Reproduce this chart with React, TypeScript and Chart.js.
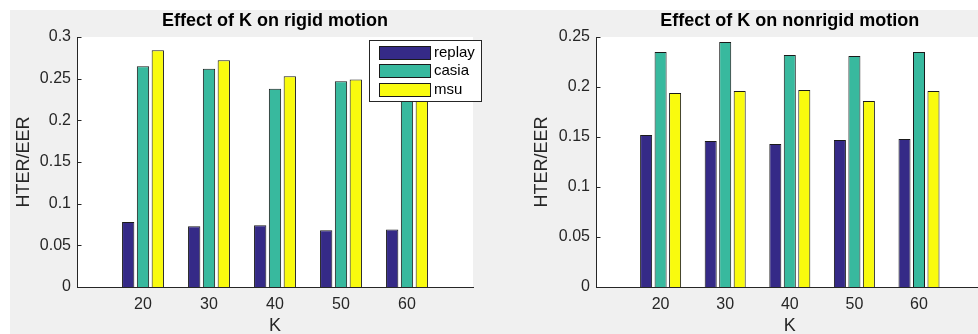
import React, { useEffect, useRef } from "react";
import { Chart, registerables } from "chart.js";

Chart.register(...registerables);

// ---- data ----
const categories = ["20", "30", "40", "50", "60"];
const seriesNames = ["replay", "casia", "msu"];
const seriesColors = ["#352a87", "#38b99e", "#f9fb0e"];

const rigidReplay = [0.078, 0.073, 0.074, 0.068, 0.069];
const rigidCasia = [0.265, 0.262, 0.238, 0.247, 0.24];
const rigidMsu = [0.284, 0.272, 0.253, 0.249, 0.25];

const nonrigidReplay = [0.152, 0.146, 0.143, 0.147, 0.148];
const nonrigidCasia = [0.235, 0.245, 0.232, 0.231, 0.235];
const nonrigidMsu = [0.194, 0.196, 0.197, 0.186, 0.196];

const FONT = '"Liberation Sans", Arial, Helvetica, sans-serif';
const AXIS_COLOR = "#262626";

const whiteArea = {
  id: "whiteArea",
  beforeDraw(chart: any) {
    const { ctx, chartArea: ca } = chart;
    ctx.save();
    ctx.fillStyle = "#ffffff";
    ctx.fillRect(ca.left, ca.top, ca.right - ca.left, ca.bottom - ca.top);
    ctx.restore();
  },
};

const inwardTicks = {
  id: "inwardTicks",
  beforeDatasetsDraw(chart: any) {
    const { ctx, chartArea: ca, scales } = chart;
    const x = scales.x;
    const y = scales.y;
    ctx.save();
    ctx.strokeStyle = AXIS_COLOR;
    ctx.lineWidth = 1;
    ctx.beginPath();
    y.ticks.forEach((t: any) => {
      const py = Math.round(y.getPixelForValue(t.value)) + 0.5;
      ctx.moveTo(ca.left, py);
      ctx.lineTo(ca.left + 4.5, py);
    });
    x.ticks.forEach((t: any, i: number) => {
      const lbl = x.getLabelForValue(t.value);
      if (!lbl) return;
      const px = Math.round(x.getPixelForTick(i)) + 0.5;
      ctx.moveTo(px, ca.bottom);
      ctx.lineTo(px, ca.bottom - 4.5);
    });
    ctx.stroke();
    ctx.restore();
  },
};

const boxLegend = {
  id: "boxLegend",
  afterDraw(chart: any, _args: any, opts: any) {
    if (!opts || !opts.show) return;
    const { ctx, chartArea: ca } = chart;
    const w = 112;
    const h = 61;
    const x0 = Math.round(ca.right + 8 - w);
    const y0 = Math.round(ca.top + 3);
    ctx.save();
    ctx.fillStyle = "#ffffff";
    ctx.fillRect(x0, y0, w, h);
    ctx.strokeStyle = AXIS_COLOR;
    ctx.lineWidth = 1;
    ctx.strokeRect(x0 + 0.5, y0 + 0.5, w, h);
    chart.data.datasets.forEach((ds: any, i: number) => {
      const cy = y0 + 12 + i * 18.5;
      const sy = Math.round(cy - 6.5);
      ctx.fillStyle = ds.backgroundColor;
      ctx.fillRect(x0 + 10, sy, 51, 13);
      ctx.strokeStyle = "#1a1a1a";
      ctx.strokeRect(x0 + 10.5, sy + 0.5, 51, 13);
      ctx.fillStyle = "#000000";
      ctx.font = `15px ${FONT}`;
      ctx.textBaseline = "middle";
      ctx.textAlign = "left";
      ctx.fillText(ds.label, x0 + 65, cy + 0.5);
    });
    ctx.restore();
  },
};

type PanelProps = {
  title: string;
  series: number[][];
  yMax: number;
  left: number;
  width: number;
  yAxisWidth: number;
  yTitlePad: number;
  padRight: number;
  showLegend: boolean;
};

function BarPanel(p: PanelProps) {
  const ref = useRef<HTMLCanvasElement | null>(null);
  useEffect(() => {
    if (!ref.current) return;
    const labels = ["", ...categories, ""];
    const datasets = p.series.map((vals, i) => ({
      label: seriesNames[i],
      data: [null, ...vals, null],
      backgroundColor: seriesColors[i],
      borderColor: "#1a1a1a",
      borderWidth: 1,
      borderSkipped: "bottom",
      categoryPercentage: 0.673,
      barPercentage: 0.83,
    }));
    const chart = new Chart(ref.current, {
      type: "bar",
      data: { labels, datasets } as any,
      plugins: [whiteArea, inwardTicks, boxLegend],
      options: {
        animation: false,
        responsive: false,
        devicePixelRatio: 1,
        layout: { padding: { left: 0, right: p.padRight, top: 0, bottom: 0 } },
        plugins: {
          legend: { display: false },
          tooltip: { enabled: false },
          title: {
            display: true,
            text: p.title,
            fullSize: false,
            color: "#000000",
            font: { family: FONT, size: 18, weight: "bold", lineHeight: 1.2 },
            padding: { top: 0.7, bottom: 4.7 },
          },
          boxLegend: { show: p.showLegend },
        } as any,
        scales: {
          x: {
            type: "category",
            offset: false,
            grid: { display: false, drawTicks: false },
            border: { display: true, color: AXIS_COLOR, width: 1 },
            ticks: {
              autoSkip: false,
              maxRotation: 0,
              padding: 8.4,
              color: AXIS_COLOR,
              font: { family: FONT, size: 16, lineHeight: 1.2 },
            },
            title: {
              display: true,
              text: "K",
              color: AXIS_COLOR,
              font: { family: FONT, size: 18, lineHeight: 0.9 },
              padding: { top: 0, bottom: 0 },
            },
            afterFit(scale: any) {
              scale.height = 47;
            },
          },
          y: {
            type: "linear",
            min: 0,
            max: p.yMax,
            grid: { display: false, drawTicks: false },
            border: { display: true, color: AXIS_COLOR, width: 1 },
            ticks: {
              stepSize: 0.05,
              padding: 6,
              color: AXIS_COLOR,
              font: { family: FONT, size: 16, lineHeight: 1.2 },
              callback: (v: any) => String(+Number(v).toFixed(2)),
            },
            title: {
              display: true,
              text: "HTER/EER",
              color: AXIS_COLOR,
              font: { family: FONT, size: 18, lineHeight: 1.2 },
              padding: { top: p.yTitlePad, bottom: 0 },
            },
            afterFit(scale: any) {
              scale.width = p.yAxisWidth;
            },
          },
        } as any,
      } as any,
    });
    return () => chart.destroy();
  }, []);
  return (
    <canvas
      ref={ref}
      width={p.width}
      height={324}
      style={{
        position: "absolute",
        left: p.left,
        top: 10,
        width: p.width,
        height: 324,
      }}
    />
  );
}

export default function App() {
  return (
    <div
      style={{
        position: "absolute",
        left: 0,
        top: 0,
        width: 978,
        height: 334,
        overflow: "hidden",
        background: "#ffffff",
      }}
    >
      <div
        style={{
          position: "absolute",
          left: 10,
          top: 10,
          width: 968,
          height: 324,
          background: "#f0f0f0",
        }}
      />
      <BarPanel
        title="Effect of K on rigid motion"
        series={[rigidReplay, rigidCasia, rigidMsu]}
        yMax={0.3}
        left={10}
        width={480}
        yAxisWidth={67}
        yTitlePad={3.2}
        padRight={17}
        showLegend={true}
      />
      <BarPanel
        title="Effect of K on nonrigid motion"
        series={[nonrigidReplay, nonrigidCasia, nonrigidMsu]}
        yMax={0.25}
        left={490}
        width={502}
        yAxisWidth={106}
        yTitlePad={41.2}
        padRight={0}
        showLegend={false}
      />
    </div>
  );
}
